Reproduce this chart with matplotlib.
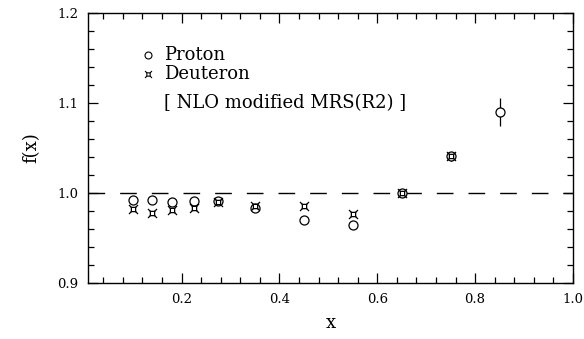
import matplotlib
matplotlib.use("Agg")
import matplotlib.pyplot as plt
from matplotlib.path import Path
from matplotlib.ticker import MultipleLocator, FixedLocator, FixedFormatter

plt.rcParams['font.family'] = ['DejaVu Serif']

x_p = [0.10, 0.14, 0.18, 0.225, 0.275, 0.35, 0.45, 0.55, 0.65, 0.75, 0.85]
f_p = [0.992, 0.992, 0.990, 0.991, 0.991, 0.983, 0.970, 0.965, 1.000, 1.041, 1.090]
e_p = [0.0, 0.0, 0.0, 0.0, 0.0, 0.0, 0.0, 0.0, 0.003, 0.005, 0.016]

x_d = [0.10, 0.14, 0.18, 0.225, 0.275, 0.35, 0.45, 0.55, 0.65, 0.75]
f_d = [0.982, 0.978, 0.981, 0.983, 0.990, 0.986, 0.986, 0.977, 1.000, 1.041]
e_d = [0.0, 0.0, 0.0, 0.0, 0.0, 0.0, 0.0, 0.0, 0.003, 0.005]

xticks = [0.2, 0.4, 0.6, 0.8, 1.0]
xticklabels = ['0.2', '0.4', '0.6', '0.8', '1.0']
yticks = [0.9, 1.0, 1.1, 1.2]
yticklabels = ['0.9', '1.0', '1.1', '1.2']

# deuteron marker: square with diagonal corner spikes
s = 0.45
o = 0.95
verts = [(-s, -s), (s, -s), (s, s), (-s, s), (-s, -s),
         (-s, -s), (-o, -o), (s, -s), (o, -o), (s, s), (o, o), (-s, s), (-o, o)]
codes = [Path.MOVETO, Path.LINETO, Path.LINETO, Path.LINETO, Path.CLOSEPOLY,
         Path.MOVETO, Path.LINETO, Path.MOVETO, Path.LINETO, Path.MOVETO, Path.LINETO, Path.MOVETO, Path.LINETO]
dmark = Path(verts, codes)

fig = plt.figure(figsize=(5.84, 3.39), dpi=100)
ax = fig.add_axes([0.151, 0.165, 0.830, 0.797])

ax.axhline(1.0, color='black', lw=1.0, dashes=(12, 10.8), zorder=1)

ax.errorbar(x_p, f_p, yerr=e_p, fmt='o', ms=6.5, mfc='white', mec='black',
            mew=0.9, ecolor='black', elinewidth=0.9, capsize=0, zorder=3)
ax.errorbar(x_d, f_d, yerr=e_d, fmt='none', ecolor='black', elinewidth=0.9, capsize=0, zorder=3)
ax.plot(x_d, f_d, linestyle='none', marker=dmark, ms=6.5, mfc='none', mec='black', mew=0.9, zorder=4)

ax.set_xlim(0.009, 1.0)
ax.set_ylim(0.9, 1.2)
ax.xaxis.set_major_locator(FixedLocator(xticks))
ax.xaxis.set_major_formatter(FixedFormatter(xticklabels))
ax.xaxis.set_minor_locator(MultipleLocator(0.04))
ax.yaxis.set_major_locator(FixedLocator(yticks))
ax.yaxis.set_major_formatter(FixedFormatter(yticklabels))
ax.yaxis.set_minor_locator(MultipleLocator(0.02))
ax.tick_params(which='both', direction='in', top=True, right=True, labelsize=9.5, width=0.9)
ax.tick_params(which='major', length=7, pad=7)
ax.tick_params(which='minor', length=4)
for sp in ax.spines.values():
    sp.set_linewidth(1.0)

ax.set_xlabel('x', fontsize=13, labelpad=6)
ax.set_ylabel('f(x)', fontsize=13, labelpad=12)

ax.plot([0.124], [0.844], transform=ax.transAxes, marker='o', ms=5, mfc='white', mec='black', mew=0.8, linestyle='none', clip_on=False)
ax.plot([0.124], [0.774], transform=ax.transAxes, marker=dmark, ms=5, mfc='none', mec='black', mew=0.8, linestyle='none', clip_on=False)
ax.text(0.157, 0.844, 'Proton', transform=ax.transAxes, fontsize=13, va='center', ha='left')
ax.text(0.157, 0.774, 'Deuteron', transform=ax.transAxes, fontsize=13, va='center', ha='left')
ax.text(0.157, 0.668, '[ NLO modified MRS(R2) ]', transform=ax.transAxes, fontsize=13, va='center', ha='left')

fig.savefig('out.png', dpi=100)
